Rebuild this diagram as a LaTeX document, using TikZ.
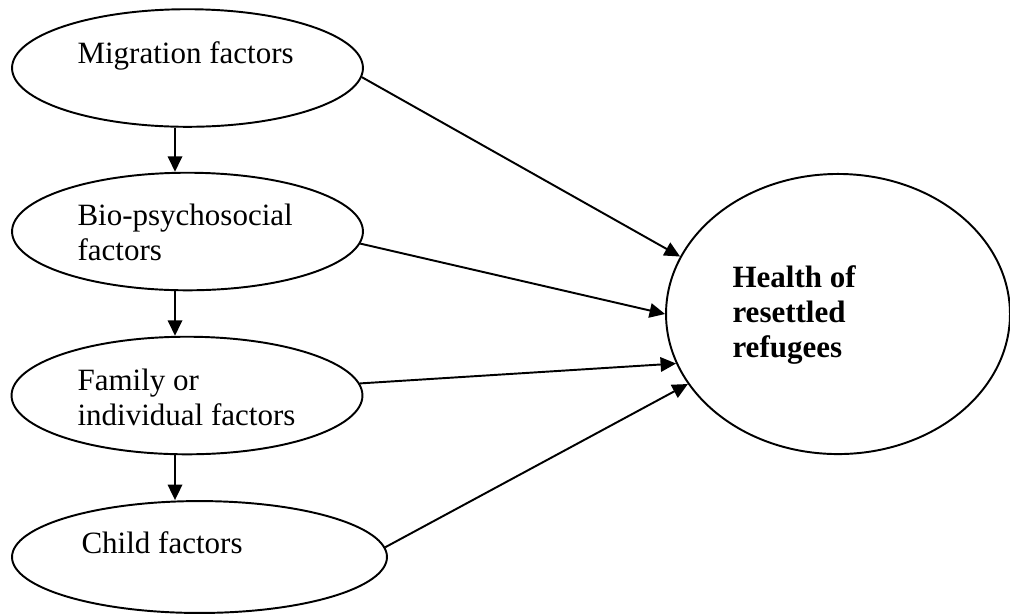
\documentclass[tikz,border=0pt]{standalone}
\usepackage{fontspec}
\setmainfont{Liberation Serif}
\usetikzlibrary{arrows.meta,shapes.geometric}

\tikzset{
  factor/.style={draw, ellipse, line width=.75pt, inner sep=0pt, minimum width=135.8pt, minimum height=45.5pt},
  lbl/.style={anchor=base west, inner sep=0pt, align=left, font=\fontsize{12}{13.2}\selectfont},
  arr/.style={line width=.75pt, -{Triangle[length=6pt,width=5.6pt]}}
}

\begin{document}
\begin{tikzpicture}[x=0.387pt, y=-0.387pt]
\useasboundingbox (0,0) rectangle (1010,614);
\node[factor] (mig) at (187.5,68) {};
\node[factor] (bio) at (187.5,231.5) {};
\node[factor] (fam) at (187,395.5) {};
\node[factor, minimum width=145.1pt, minimum height=43.3pt] (chi) at (199.5,557) {};
\node[draw, ellipse, line width=.75pt, minimum width=133.1pt, minimum height=108.4pt] (hlth) at (838,314) {};
% labels (base = last line)
\node[lbl] (tmig) at (77,63) {Migration factors};
\node[lbl] (tbio) at (77,260) {Bio-psychosocial\\factors};
\node[lbl, font=\fontsize{12}{13.5}\selectfont] (tfam) at (77,425) {Family or\\individual factors};
\node[lbl] (tchi) at (81,553) {Child factors};
\node[lbl, font=\fontsize{12}{13.5}\selectfont\bfseries] (thl) at (732,357) {Health of\\resettled\\refugees};
\coordinate (ax) at (175,0);
\draw[arr] (mig.south -| ax)--(bio.north -| ax);
\draw[arr] (bio.south -| ax)--(fam.north -| ax);
\draw[arr] (fam.south -| ax)--(chi.north -| ax);
\draw[arr] (mig.-3)--(hlth.160);
\draw[arr] (bio.-4)--(hlth.180);
\draw[arr] (fam.4)--(hlth.197);
\draw[arr] (chi.3)--(hlth.205);
\end{tikzpicture}
\end{document}
